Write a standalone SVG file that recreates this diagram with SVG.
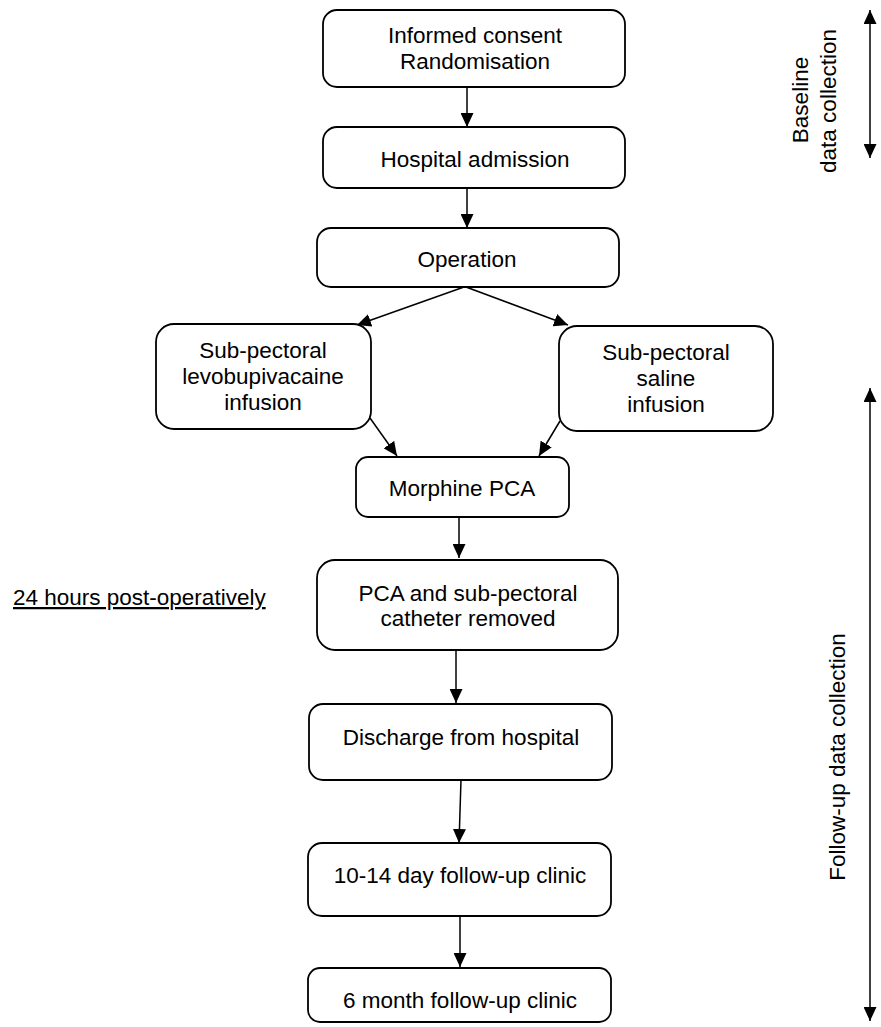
<svg xmlns="http://www.w3.org/2000/svg" width="881" height="1027" viewBox="0 0 881 1027">
<defs>
<marker id="ah" markerUnits="userSpaceOnUse" markerWidth="15" markerHeight="13" refX="14" refY="6.5" orient="auto-start-reverse" viewBox="0 0 15 13">
<path d="M0,0 L14,6.5 L0,13 z" fill="#000"/>
</marker>
<style>
.box{fill:#fff;stroke:#000;stroke-width:1.8}
.t{font-family:"Liberation Sans",Arial,sans-serif;font-size:22.5px;fill:#000;text-anchor:middle}
.c{stroke:#000;stroke-width:1.5;fill:none;marker-end:url(#ah)}
.d{stroke:#000;stroke-width:1.5;fill:none;marker-end:url(#ah);marker-start:url(#ah)}
</style>
</defs>
<rect width="881" height="1027" fill="#fff"/>
<g id="connectors">
<line class="c" x1="467" y1="87" x2="467" y2="127"/>
<line class="c" x1="467" y1="188" x2="467" y2="228"/>
<line class="c" x1="464" y1="287" x2="357" y2="325"/>
<line class="c" x1="466" y1="287" x2="568" y2="325"/>
<line class="c" x1="370" y1="418" x2="397" y2="456"/>
<line class="c" x1="560" y1="421" x2="539" y2="456"/>
<line class="c" x1="459" y1="517" x2="459" y2="558"/>
<line class="c" x1="456" y1="650" x2="456" y2="703"/>
<line class="c" x1="461" y1="780" x2="459" y2="843"/>
<line class="c" x1="460" y1="916" x2="460" y2="967"/>
<line class="d" x1="870" y1="10" x2="870" y2="158"/>
<line class="d" x1="870" y1="388" x2="870" y2="1021"/>
</g>
<g id="n1"><rect class="box" x="323" y="10" width="302" height="77" rx="14"/>
<text class="t" x="475" y="43">Informed consent</text><text class="t" x="475" y="69">Randomisation</text></g>
<g id="n2"><rect class="box" x="323" y="127" width="302" height="61" rx="14"/>
<text class="t" x="475" y="167">Hospital admission</text></g>
<g id="n3"><rect class="box" x="317" y="228" width="302" height="59" rx="14"/>
<text class="t" x="467" y="267">Operation</text></g>
<g id="n4"><rect class="box" x="156" y="324" width="215" height="105" rx="18"/>
<text class="t" x="263" y="358">Sub-pectoral</text><text class="t" x="263" y="384">levobupivacaine</text><text class="t" x="263" y="410">infusion</text></g>
<g id="n5"><rect class="box" x="559" y="326" width="214" height="105" rx="18"/>
<text class="t" x="666" y="360">Sub-pectoral</text><text class="t" x="666" y="386">saline</text><text class="t" x="666" y="412">infusion</text></g>
<g id="n6"><rect class="box" x="356" y="457" width="213" height="60" rx="12"/>
<text class="t" x="462" y="496">Morphine PCA</text></g>
<g id="n7"><rect class="box" x="317" y="560" width="301" height="90" rx="18"/>
<text class="t" x="468" y="601">PCA and sub-pectoral</text><text class="t" x="468" y="626">catheter removed</text></g>
<g id="n8"><rect class="box" x="309" y="704" width="303" height="76" rx="14"/>
<text class="t" x="461" y="745">Discharge from hospital</text></g>
<g id="n9"><rect class="box" x="308" y="843" width="303" height="73" rx="14"/>
<text class="t" x="460" y="883">10-14 day follow-up clinic</text></g>
<g id="n10"><rect class="box" x="308" y="968" width="303" height="54" rx="12"/>
<text class="t" x="460" y="1008">6 month follow-up clinic</text></g>
<g id="labels">
<text x="13" y="605" font-family="Liberation Sans, Arial, sans-serif" font-size="22.5" text-decoration="underline" fill="#000">24 hours post-operatively</text>
<text class="t" transform="translate(808,100) rotate(-90)">Baseline</text>
<text class="t" transform="translate(836,101) rotate(-90)">data collection</text>
<text class="t" transform="translate(845,757) rotate(-90)">Follow-up data collection</text>
</g>
</svg>
